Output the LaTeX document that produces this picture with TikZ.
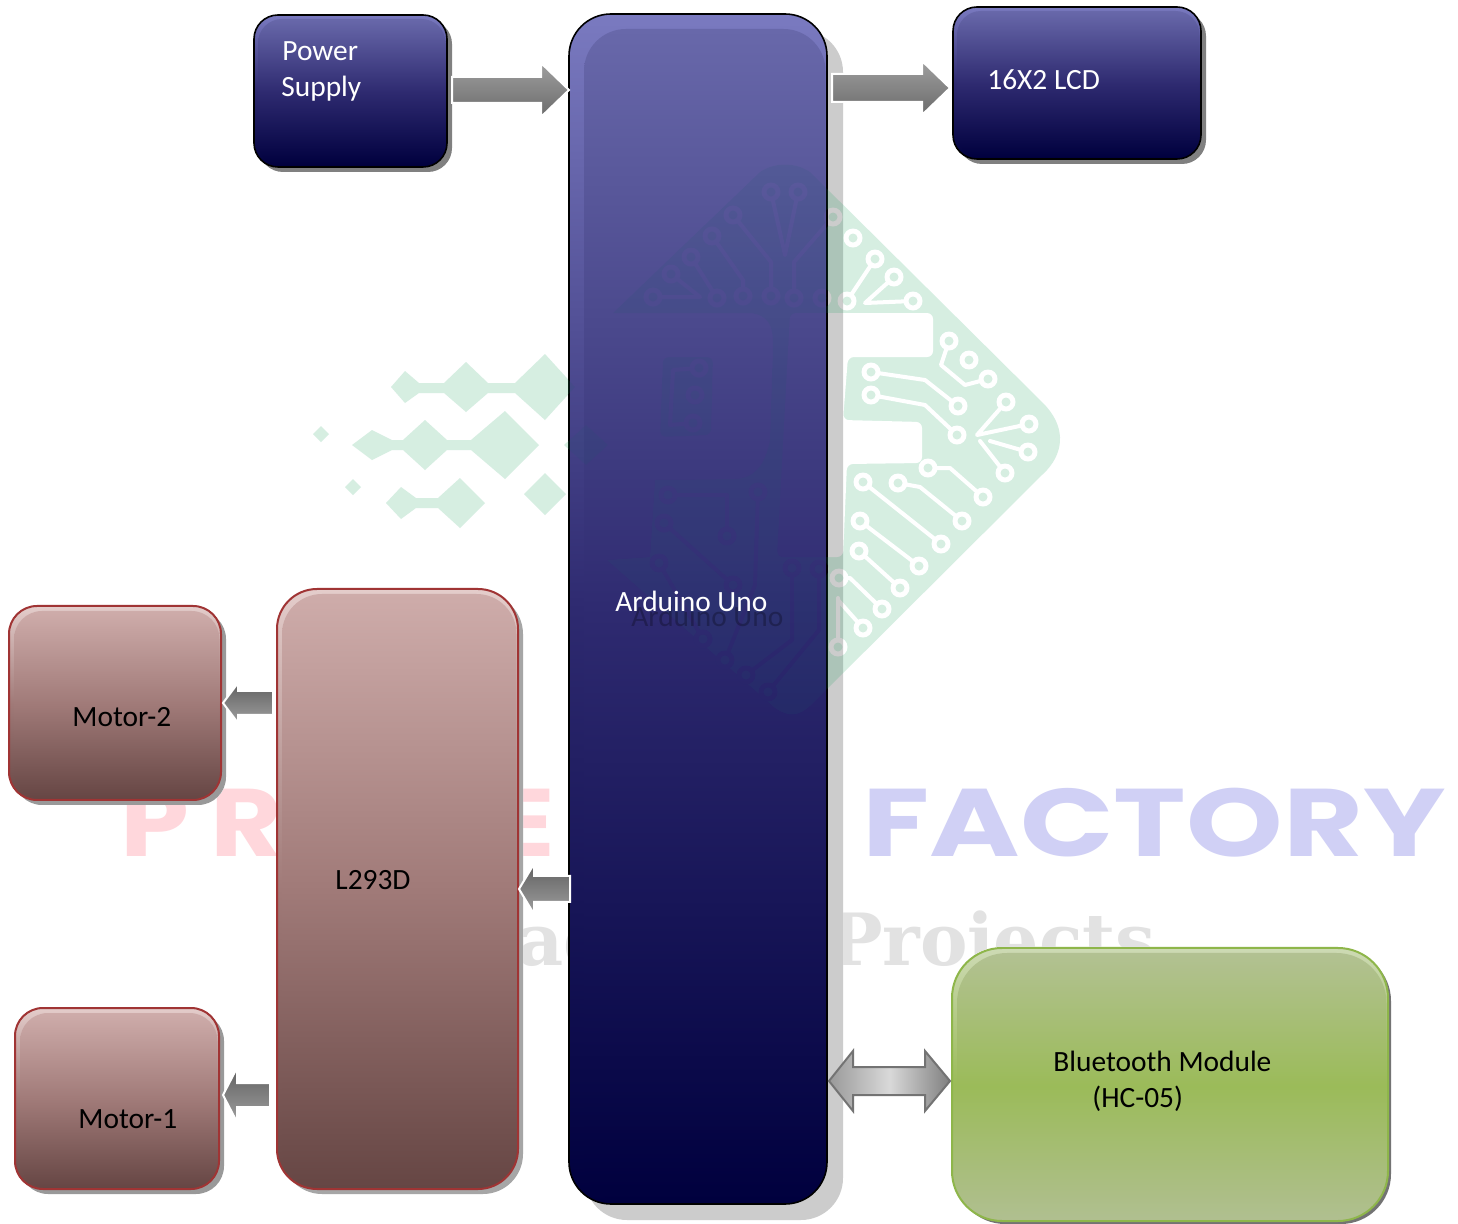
\documentclass[tikz,border=0pt]{standalone}
\usepackage{fontspec}
\setmainfont{Carlito}
\newfontfamily\wmsans{Poppins}
\newfontfamily\wmserif{DejaVu Serif}
\usetikzlibrary{calc,fadings}
\definecolor{navyA}{RGB}{122,122,192}
\definecolor{navyB}{RGB}{104,104,170}
\definecolor{navyM}{RGB}{46,42,112}
\definecolor{navyZ}{RGB}{0,0,62}
\definecolor{marA}{RGB}{228,205,203}
\definecolor{marB}{RGB}{206,172,170}
\definecolor{marM}{RGB}{160,122,120}
\definecolor{marZ}{RGB}{102,70,68}
\definecolor{marE}{RGB}{160,52,52}
\definecolor{grnA}{RGB}{205,218,180}
\definecolor{grnB}{RGB}{178,193,146}
\definecolor{grnM}{RGB}{155,187,89}
\definecolor{grnZ}{RGB}{176,191,144}
\definecolor{grnE}{RGB}{142,182,74}
\definecolor{wmink}{RGB}{28,161,94}
\definecolor{wminkdark}{RGB}{30,90,110}
\definecolor{wmpink}{RGB}{255,215,220}
\definecolor{wmblue}{RGB}{208,208,245}
\definecolor{wmgrey}{RGB}{226,226,226}
\tikzset{
  blockbase/.style={inner sep=0pt,outer sep=0pt,shape=rectangle},
  navyblock/.style={blockbase,draw=black,line width=.8pt,top color=navyA,bottom color=navyZ,middle color=navyM},
  navyinner/.style={top color=navyB,bottom color=navyZ,middle color=navyM},
  marblock/.style={blockbase,draw=marE,line width=1pt,top color=marA,bottom color=marZ,middle color=marM},
  marinner/.style={top color=marB,bottom color=marZ,middle color=marM},
  grnblock/.style={blockbase,draw=grnE,line width=1pt,top color=grnA,bottom color=grnZ,middle color=grnM},
  grninner/.style={top color=grnB,bottom color=grnZ,middle color=grnM},
  wlabel/.style={anchor=base west,inner sep=0pt,font=\fontsize{14.7}{17}\selectfont,text=white},
  klabel/.style={anchor=base west,inner sep=0pt,font=\fontsize{14.7}{17}\selectfont,text=black},
  arrowout/.style={draw=white,line width=1pt,line join=miter},
  rightfill/.style={arrowout,top color=black!38,bottom color=black!58},
  leftfill/.style={arrowout,top color=black!62,bottom color=black!38},
  arrowshadow/.style={fill=black!45},
  wmtrace/.style={draw=black,line width=2pt,line join=round,line cap=round},
  logooverlay/.style={path fading=logofade,fit fading=false,fading transform={xshift=364.5pt,yshift=-306pt}},
}
% name,x0,y0,x1,y1,radius(pt),block style,inner style,inset
\newcommand\blockbox[9]{%
  \pgfmathsetmacro\bcx{(#2+#4)/2}\pgfmathsetmacro\bcy{(#3+#5)/2}%
  \pgfmathsetmacro\bwid{(#4-#2)*0.5}\pgfmathsetmacro\bhei{(#5-#3)*0.5}%
  \node[#7,minimum width=\bwid pt,minimum height=\bhei pt,rounded corners=#6 pt] (#1) at (\bcx,\bcy) {};
  \path[#8,rounded corners=#6 pt] (#2+#9,#3+#9) rectangle (#4-1.5,#5-1.5);
}
\newcommand\arrowpoly[5]{($(#1)+(0,-#3)$) -- ($(#2)+(-#5,-#3)$) -- ($(#2)+(-#5,-#4)$) -- (#2) -- ($(#2)+(-#5,#4)$) -- ($(#2)+(-#5,#3)$) -- ($(#1)+(0,#3)$) -- cycle}
\newcommand\blockarrow[6]{%
  \path[arrowshadow,shift={(5,5)}] \arrowpoly{#1}{#2}{#3}{#4}{#5};
  \path[#6] \arrowpoly{#1}{#2}{#3}{#4}{#5};
}
\begin{tikzfadingfrompicture}[name=logofade,x=0.5pt,y=-0.5pt]
  \useasboundingbox (0,0) rectangle (1458,1224);
  % main logo body
  \fill[white] (613,313) -- (750,313) .. controls (768,315) and (773,325) .. (773,345) -- (770,440)
    .. controls (765,465) and (755,478) .. (735,479) -- (655,480) -- (650,557) -- (607,560)
    -- (775,708) .. controls (788,717) and (798,717) .. (810,706) -- (1047,470)
    .. controls (1065,450) and (1065,425) .. (1043,403) -- (810,172)
    .. controls (795,162) and (775,162) .. (760,172) -- cycle;
  % letter F knocked out
  \fill[black,rounded corners=3pt] (790,313) -- (933,313) -- (933,357) -- (848,357) -- (843,420) -- (922,422)
    -- (922,463) -- (847,464) -- (843,557) -- (777,557) -- cycle;
  % hole of the P
  \fill[white,rounded corners=3pt] (663,357) -- (713,357) -- (711,435) -- (660,437) -- cycle;
  % traces
  \draw[wmtrace] (653,297) -- (700,297) -- (671,274);
  \draw[wmtrace] (691,257) -- (717,298);
  \draw[wmtrace] (712,236) -- (743,280) -- (743,296);
  \draw[wmtrace] (733,215) -- (771,262) -- (771,296);
  \draw[wmtrace] (771,192) -- (785,255) -- (798,192);
  \draw[wmtrace] (794,298) -- (794,262) -- (833,217);
  \draw[wmtrace] (847,301) -- (875,259);
  \draw[wmtrace] (894,277) -- (865,303) -- (913,301);
  \draw[wmtrace] (949,341) -- (941,365) -- (965,385) -- (988,379);
  \draw[wmtrace] (871,372) -- (925,380) -- (958,406);
  \draw[wmtrace] (871,395) -- (925,405) -- (957,435);
  \draw[wmtrace] (1006,402) -- (977,435) -- (1029,424);
  \draw[wmtrace] (1028,452) -- (990,441);
  \draw[wmtrace] (1005,473) -- (980,441);
  \draw[wmtrace] (928,468) -- (950,468) -- (983,497);
  \draw[wmtrace] (898,483) -- (920,487) -- (962,521);
  \draw[wmtrace] (863,482) -- (941,544);
  \draw[wmtrace] (860,521) -- (919,566);
  \draw[wmtrace] (859,551) -- (900,588);
  \draw[wmtrace] (839,578) -- (850,578) -- (882,609);
  \draw[wmtrace] (838,600) -- (863,628);
  \draw[wmtrace] (838,647) -- (838,598);
  \draw[wmtrace] (668,495) -- (727,495) -- (727,536);
  \draw[wmtrace] (664,523) -- (733,585);
  \draw[wmtrace] (758,492) -- (755,585) -- (725,660);
  \draw[wmtrace] (792,568) -- (792,640) -- (746,675);
  \draw[wmtrace] (819,569) -- (819,630) -- (768,692);
  \draw[wmtrace] (659,563) -- (703,639);
  \draw[wmtrace] (699,368) -- (673,370) -- (670,425) -- (693,423);
  \foreach \q in {(653,297),(671,274),(691,257),(712,236),(733,215),(771,192),(798,192),(717,298),(743,296),
    (771,296),(794,298),(822,298),(833,217),(853,238),(875,259),(894,277),(913,301),(847,301),(949,341),
    (969,360),(988,379),(871,372),(871,395),(958,406),(957,435),(1006,402),(1029,424),(1028,452),(1005,473),
    (928,468),(983,497),(898,483),(962,521),(863,482),(941,544),(860,521),(919,566),(859,551),(900,588),
    (882,609),(863,628),(839,578),(838,647),(668,495),(758,492),(664,523),(727,536),(659,563),(792,568),
    (819,569),(733,585),(703,639),(725,660),(746,675),(768,692),(699,368),(695,395),(693,423)}
    {\fill[black] \q circle[radius=9.5]; \fill[white] \q circle[radius=4.5];}
  % left diamonds
  \fill[white] (391,387) -- (405,371) -- (419,383) -- (444,383) -- (466,362) -- (488,383) -- (515,383)
    -- (545,354) -- (575,387) -- (545,420) -- (515,393) -- (488,393) -- (466,412) -- (444,393) -- (419,393) -- (405,403) -- cycle;
  \fill[white] (352,445) -- (372,430) -- (392,440) -- (403,440) -- (425,420) -- (447,440) -- (471,440)
    -- (505,411) -- (539,445) -- (505,479) -- (471,450) -- (447,450) -- (425,470) -- (403,450) -- (392,450) -- (372,460) -- cycle;
  \fill[white] (386,503) -- (401,487) -- (416,498) -- (438,498) -- (460,478) -- (485,503) -- (460,528) -- (438,508) -- (416,508) -- (401,519) -- cycle;
  \fill[white] (313,434) -- (321,426) -- (329,434) -- (321,442) -- cycle;
  \fill[white] (345,487) -- (353,479) -- (361,487) -- (353,495) -- cycle;
  \fill[white] (524,494) -- (545,473) -- (566,494) -- (545,515) -- cycle;
  \fill[white] (564,445) -- (586,425) -- (608,445) -- (586,465) -- cycle;
\end{tikzfadingfrompicture}
\begin{document}
\begin{tikzpicture}[x=0.5pt,y=-0.5pt]
\useasboundingbox (0,0) rectangle (1458,1224);
\fill[white] (0,0) rectangle (1458,1224);
% shadows
\fill[black!50,rounded corners=12pt] (259,20) rectangle (452,172);
\fill[black!50,rounded corners=12pt] (958,12) rectangle (1206,164);
\fill[black!20,rounded corners=21pt] (585,30) rectangle (843,1220);
\fill[black!35,rounded corners=20pt] (282,594) rectangle (523,1194);
\fill[black!40,rounded corners=14pt] (14,611) rectangle (226,805);
\fill[black!40,rounded corners=14pt] (20,1013) rectangle (224,1194);
\fill[black!55,rounded corners=25pt] (955,951) rectangle (1391,1224);
% blocks
\blockbox{power}{254}{15}{447}{167}{12}{navyblock}{navyinner}{4}
\blockbox{lcd}{953}{7}{1201}{159}{12}{navyblock}{navyinner}{4}
\blockbox{arduino}{569}{14}{827}{1204}{21}{navyblock}{navyinner}{15}
\blockbox{l293}{277}{589}{518}{1189}{20}{marblock}{marinner}{5}
\blockbox{motor2}{9}{606}{221}{800}{14}{marblock}{marinner}{5}
\blockbox{motor1}{15}{1008}{219}{1189}{14}{marblock}{marinner}{5}
\blockbox{bt}{952}{948}{1388}{1221}{25}{grnblock}{grninner}{5}
% arrow end points
\coordinate (a1s) at ($(power.east)+(5,-1)$);
\coordinate (a1e) at (arduino.west |- a1s);
\coordinate (a2e) at ($(lcd.west)+(-3,5)$);
\coordinate (a2s) at ($(arduino.east |- a2e)+(5,0)$);
\coordinate (a3e) at ($(motor2.east)+(2,0)$);
\coordinate (a3s) at ($(l293.west |- a3e)+(-4,0)$);
\coordinate (a4e) at ($(l293.east)+(1,0)$);
\coordinate (a4s) at ($(arduino.west |- a4e)+(1,0)$);
\coordinate (a5e) at ($(motor1.east)+(4,-3.5)$);
\coordinate (a5s) at ($(l293.west |- a5e)+(-7,0)$);
\coordinate (a6r) at ($(bt.west)+(-2,-3.5)$);
\coordinate (a6l) at ($(arduino.east |- a6r)+(2,0)$);
% block arrows
\blockarrow{a1s}{a1e}{13}{27}{28}{rightfill}
\blockarrow{a2s}{a2e}{14}{27}{28}{rightfill}
\blockarrow{a3s}{a3e}{12}{20}{-15}{leftfill}
\blockarrow{a4s}{a4e}{13}{25}{-15}{leftfill}
\blockarrow{a5s}{a5e}{12}{27}{-14}{leftfill}
% double arrow
\path[fill=black!45,shift={(3,3)}]
  (a6l) -- ($(a6l)+(24,-30)$) -- ($(a6l)+(24,-14)$) -- ($(a6r)+(-25,-14)$) -- ($(a6r)+(-25,-30)$) -- (a6r)
  -- ($(a6r)+(-25,30)$) -- ($(a6r)+(-25,14)$) -- ($(a6l)+(24,14)$) -- ($(a6l)+(24,30)$) -- cycle;
\path[draw=black!55,line width=1pt,left color=black!40,right color=black!50,middle color=black!15]
  (a6l) -- ($(a6l)+(24,-30)$) -- ($(a6l)+(24,-14)$) -- ($(a6r)+(-25,-14)$) -- ($(a6r)+(-25,-30)$) -- (a6r)
  -- ($(a6r)+(-25,30)$) -- ($(a6r)+(-25,14)$) -- ($(a6l)+(24,14)$) -- ($(a6l)+(24,30)$) -- cycle;
% logo watermark, a translucent overlay: green beside the tall block, subtler on it
\begin{scope}
  \clip (0,0) rectangle (569,1224) (827,0) rectangle (1458,1224);
  \path[fill=wmink,fill opacity=.18,logooverlay] (0,0) rectangle (1458,1224);
\end{scope}
\begin{scope}
  \clip (569,14) rectangle (827,1204);
  \path[fill=wminkdark,fill opacity=.13,logooverlay] (0,0) rectangle (1458,1224);
\end{scope}
% word watermark, which shows on the white ground only
\begin{scope}[blend mode=darken]
  \node[anchor=base west,inner sep=0pt,text=wmpink,font=\wmsans\bfseries\fontsize{48}{48}\selectfont] (wmprojects) at (120,857) {\scalebox{1.15}[1]{\addfontfeature{LetterSpace=19}PROJECTS}};
  \node[anchor=base west,inner sep=0pt,text=wmblue,font=\wmsans\bfseries\fontsize{48}{48}\selectfont] (wmfactory) at (862,857) {\scalebox{1.28}[1]{FACTORY}};
  \node[anchor=base west,inner sep=0pt,text=wmgrey,font=\wmserif\bfseries\fontsize{36}{36}\selectfont] (wmacademic) at (418,965) {\scalebox{.99}[1]{Academic Projects}};
\end{scope}
% labels
\node[wlabel] (tpower) at (282,61) {Power};
\node[wlabel] (tsupply) at (281,97) {Supply};
\node[wlabel] (tlcd) at (987,90) {16X2 LCD};
\node[klabel,text=black!75!navyM,opacity=.35] (tardshadow) at (631,627) {Arduino Uno};
\node[wlabel] (tarduino) at (615,612) {Arduino Uno};
\node[klabel] (tl293) at (335,890) {L293D};
\node[klabel] (tmotor2) at (72,727) {Motor-2};
\node[klabel] (tmotor1) at (78,1128) {Motor-1};
\node[klabel] (tbt) at (1053,1072) {Bluetooth Module};
\node[klabel] (thc) at (1092,1107) {(HC-05)};
\end{tikzpicture}
\end{document}
